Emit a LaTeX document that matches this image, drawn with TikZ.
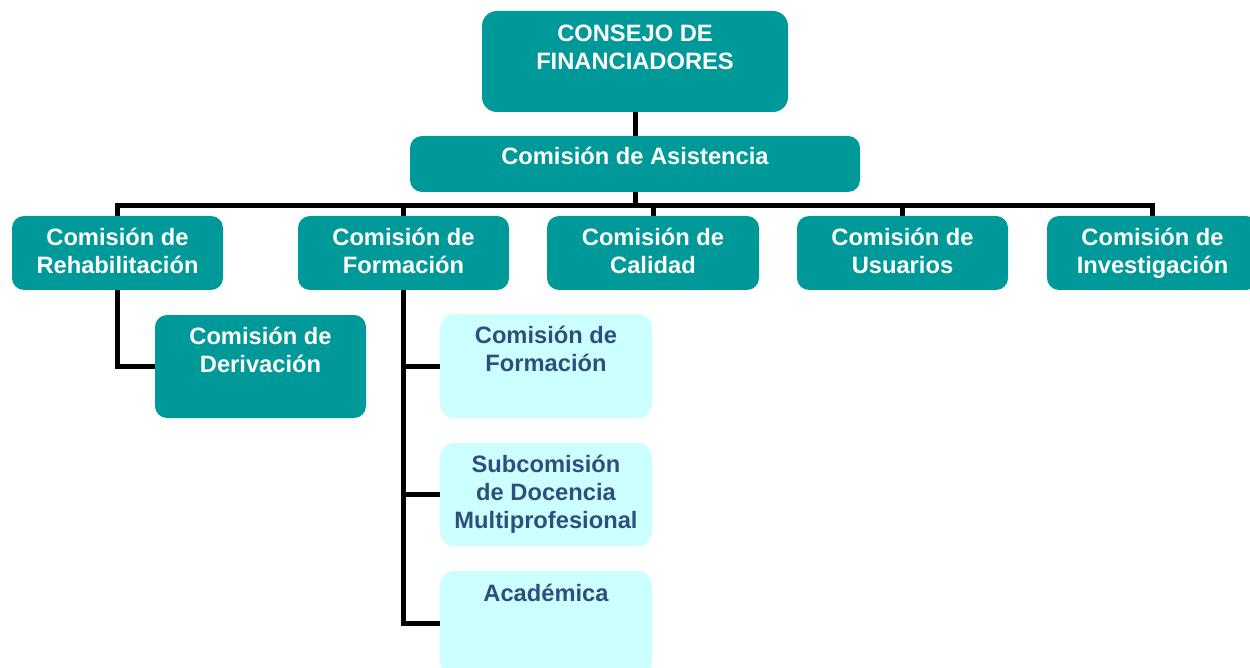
\documentclass[tikz,border=0pt]{standalone}
\usepackage{fontspec}
\setmainfont{Liberation Sans}
\usetikzlibrary{positioning}
\definecolor{orgteal}{HTML}{009999}
\definecolor{orgcyan}{HTML}{CCFFFF}
\definecolor{orgblue}{HTML}{2D4F7E}
\begin{document}
\begin{tikzpicture}[x=1pt,y=-1pt]
  \tikzset{
    boxdark/.style={fill=orgteal, rounded corners=12pt, inner sep=0pt,
      minimum width=211pt, minimum height=74pt},
    boxlight/.style={fill=orgcyan, rounded corners=14pt, inner sep=0pt,
      minimum width=212pt, minimum height=104pt},
    txtdark/.style={text=white, font=\bfseries\fontsize{23.7}{28}\selectfont,
      align=center, inner sep=0pt},
    txtlight/.style={txtdark, text=orgblue},
    conn/.style={line width=5pt, black},
  }
  \path[use as bounding box, clip] (0,0) rectangle (1250,668);

  %TOP
  \node[boxdark, rounded corners=15pt, minimum width=306pt, minimum height=101pt] (consejo) at (635,61.5) {};
  \node[txtdark, below=14pt of consejo.north] (consejotxt) {CONSEJO DE\\FINANCIADORES};
  \node[boxdark, minimum width=450pt, minimum height=56pt] (asistencia) at (635,164) {};
  \node[txtdark, below=11pt of asistencia.north] (asistenciatxt) {Comisión de Asistencia};

  %LEVEL 2
  \node[boxdark] (rehab) at (117.5,253) {};
  \node[boxdark] (formacion) at (403.5,253) {};
  \node[boxdark, minimum width=212pt] (calidad) at (653,253) {};
  \node[boxdark] (usuarios) at (902.5,253) {};
  \node[boxdark] (investigacion) at (1152.5,253) {};
  \node[txtdark, below=12pt of rehab.north] (rehabtxt) {Comisión de\\Rehabilitación};
  \node[txtdark, below=12pt of formacion.north] (formaciontxt) {Comisión de\\Formación};
  \node[txtdark, below=12pt of calidad.north] (calidadtxt) {Comisión de\\Calidad};
  \node[txtdark, below=12pt of usuarios.north] (usuariostxt) {Comisión de\\Usuarios};
  \node[txtdark, below=12pt of investigacion.north] (investigaciontxt) {Comisión de\\Investigación};

  %LEVEL 3
  \node[boxdark, minimum height=103pt] (derivacion) at (260.5,366.5) {};
  \node[txtdark, below=12pt of derivacion.north] (derivaciontxt) {Comisión de\\Derivación};
  \node[boxlight] (subformacion) at (546,366) {};
  \node[boxlight, minimum height=103pt] (docencia) at (546,494.5) {};
  \node[boxlight] (academica) at (546,623) {};
  \node[txtlight, below=12pt of subformacion.north] (subformaciontxt) {Comisión de\\Formación};
  \node[txtlight, below=12pt of docencia.north] (docenciatxt) {Subcomisión\\de Docencia\\Multiprofesional};
  \node[txtlight, below=13pt of academica.north] (academicatxt) {Académica};

  %CONNECTORS
  \draw[conn] (consejo.south) -- (asistencia.north);
  \draw[conn] (asistencia.south) -- ++(0,13) coordinate (bus);
  \foreach \n in {rehab,formacion,calidad,usuarios,investigacion}
    \draw[conn] (\n.north) |- (bus);
  \draw[conn] (rehab.south) |- (derivacion.west);
  \foreach \n in {subformacion,docencia,academica}
    \draw[conn] (formacion.south) |- (\n.west);
\end{tikzpicture}
\end{document}
